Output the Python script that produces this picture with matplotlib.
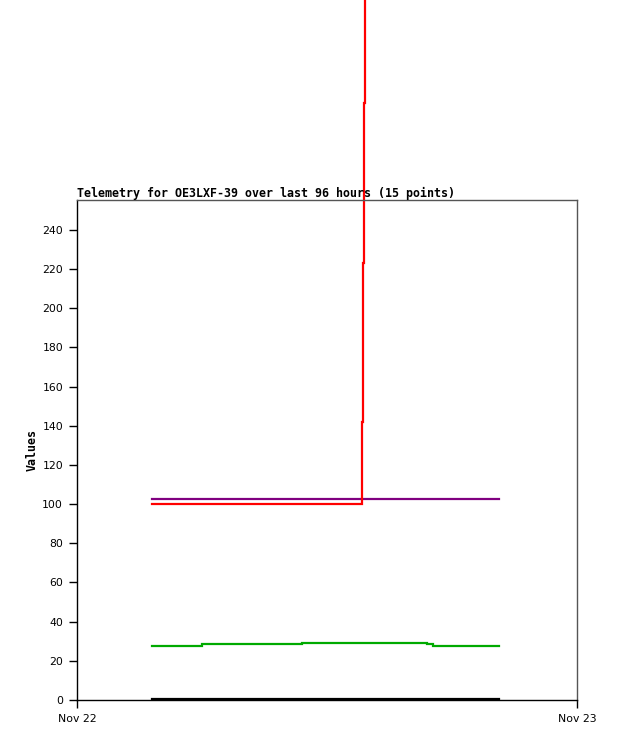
import matplotlib
matplotlib.use("Agg")
import matplotlib.pyplot as plt

# time in hours after Nov 22 00:00
hours = [3.6, 4.8, 6.0, 8.4, 10.8, 12.2, 13.68, 13.73, 13.78, 13.83, 15.3, 16.8, 17.1, 18.7, 20.26]
red    = [100.3, 100.3, 100.3, 100.3, 100.3, 100.3, 142, 223, 305, 420, 420, 420, 420, 420, 420]
purple = [102.4] * 15
green  = [27.7, 27.7, 28.4, 28.4, 29.0, 29.0, 29.0, 29.0, 29.0, 29.0, 29.0, 28.4, 27.8, 27.8, 27.8]
black  = [0.4] * 15

x_ticks = [0, 24]
x_labels = ["Nov 22", "Nov 23"]
y_ticks = list(range(0, 241, 20))

W, H = 618, 741
fig = plt.figure(figsize=(W / 100, H / 100), dpi=100)
ax = fig.add_axes([77 / W, (H - 700) / H, 500 / W, 500 / H])

for vals, col in [(black, "black"), (green, "#00aa00"), (purple, "#800080"), (red, "#ff0000")]:
    ax.plot(hours, vals, drawstyle="steps-post", color=col, lw=1.6, clip_on=False,
            solid_joinstyle="miter")

ax.set_xlim(0, 24)
ax.set_ylim(0, 255.3)
ax.set_xticks(x_ticks)
ax.set_xticklabels(x_labels)
ax.set_yticks(y_ticks)
ax.tick_params(direction="out", length=6, width=1, labelsize=7.8, pad=4)
for s in ["top", "right"]:
    ax.spines[s].set_color("#555555")
for s in ax.spines.values():
    s.set_linewidth(1)

ax.set_ylabel("Values", family="DejaVu Sans Mono", fontweight="bold", fontsize=8.4)
ax.yaxis.set_label_coords(-0.076, 0.5)
ax.set_title("Telemetry for OE3LXF-39 over last 96 hours (15 points)", family="DejaVu Sans Mono",
             fontweight="bold", fontsize=8.4, loc="left", pad=2)

fig.savefig("out.png", dpi=100)
